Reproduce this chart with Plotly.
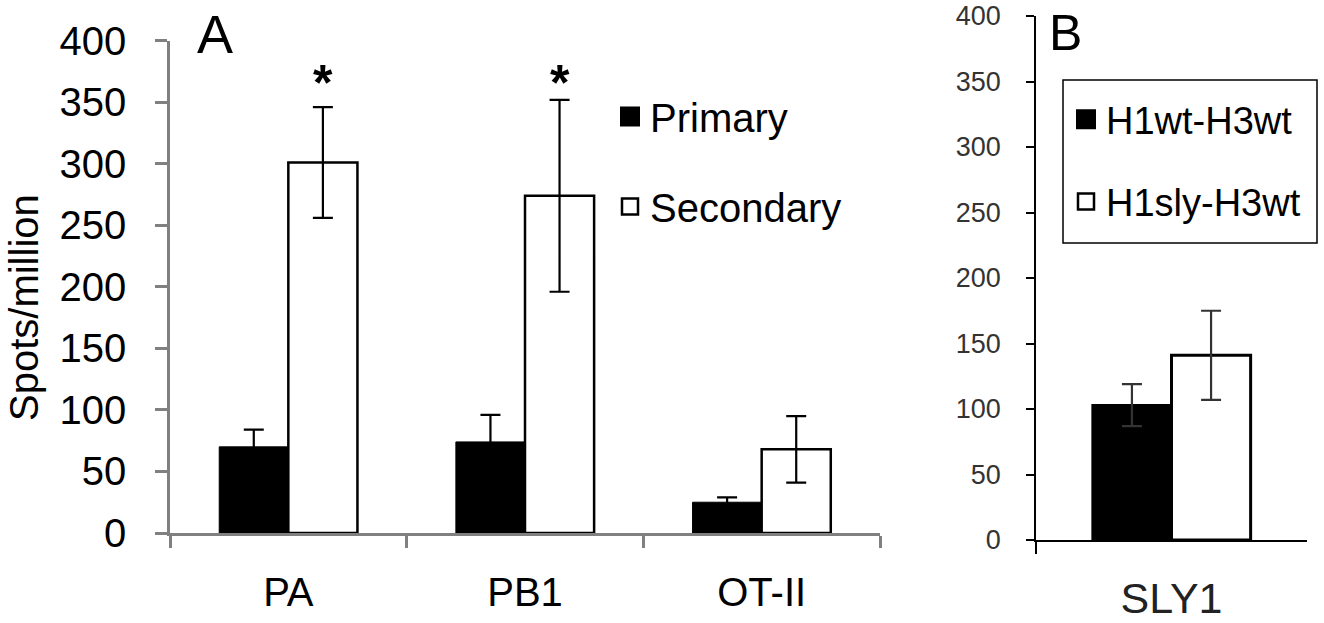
import plotly.graph_objects as go

# ---------- data ----------
categories_a = ["PA", "PB1", "OT-II"]
primary = [70, 74, 25]
primary_err = [14, 22, 4]
secondary = [301, 274, 68]
secondary_err = [45, 78, 27]
significance = ["*", "*", ""]
sig_level = 366

categories_b = ["SLY1"]
h1wt = [103]
h1wt_err = [16]
h1sly = [141]
h1sly_err = [34]

ytick_vals = [0, 50, 100, 150, 200, 250, 300, 350, 400]

FONT = "Liberation Sans, Arial, sans-serif"
W, H = 1324, 623
BARGAP_A = 0.416
BARGAP_B = 0.424

fig = go.Figure()

# ---------- panel A ----------
fig.add_trace(go.Bar(
    x=categories_a, y=primary, name="Primary", showlegend=False,
    marker=dict(color="black", line=dict(color="black", width=1)),
    error_y=dict(type="data", array=primary_err, color="black", thickness=2.2, width=10),
    xaxis="x", yaxis="y"))
fig.add_trace(go.Bar(
    x=categories_a, y=secondary, name="Secondary", showlegend=False,
    marker=dict(color="white", line=dict(color="black", width=2.5)),
    error_y=dict(type="data", array=secondary_err, color="black", thickness=2.2, width=10),
    xaxis="x", yaxis="y"))

# legend entries (panel A)
fig.add_trace(go.Scatter(x=[None], y=[None], mode="markers", name="Primary",
                         legend="legend", legendgroup="p",
                         marker=dict(symbol="square", size=16, color="black",
                                     line=dict(color="black", width=4)),
                         xaxis="x", yaxis="y"))
fig.add_trace(go.Scatter(x=[None], y=[None], mode="markers", name="Secondary",
                         legend="legend", legendgroup="s",
                         marker=dict(symbol="square", size=16, color="white",
                                     line=dict(color="black", width=2.5)),
                         xaxis="x", yaxis="y"))

# ---------- panel B ----------
fig.add_trace(go.Bar(
    x=categories_b, y=h1wt, name="H1wt-H3wt", showlegend=False,
    marker=dict(color="black", line=dict(color="black", width=2)),
    error_y=dict(type="data", array=h1wt_err, color="#333333", thickness=2.2, width=10),
    xaxis="x2", yaxis="y2"))
fig.add_trace(go.Bar(
    x=categories_b, y=h1sly, name="H1sly-H3wt", showlegend=False,
    marker=dict(color="white", line=dict(color="black", width=3)),
    error_y=dict(type="data", array=h1sly_err, color="#333333", thickness=2.2, width=10),
    xaxis="x2", yaxis="y2"))

fig.add_trace(go.Scatter(x=[None], y=[None], mode="markers", name="H1wt-H3wt",
                         legend="legend2", legendgroup="w",
                         marker=dict(symbol="square", size=16, color="black",
                                     line=dict(color="black", width=4)),
                         xaxis="x2", yaxis="y2"))
fig.add_trace(go.Scatter(x=[None], y=[None], mode="markers", name="H1sly-H3wt",
                         legend="legend2", legendgroup="y",
                         marker=dict(symbol="square", size=16, color="white",
                                     line=dict(color="black", width=2.5)),
                         xaxis="x2", yaxis="y2"))

# ---------- significance asterisks ----------
bar_w = (1 - BARGAP_A) / 2
annotations = []
for i, s in enumerate(significance):
    if s:
        annotations.append(dict(x=i + bar_w / 2, y=sig_level, xref="x", yref="y",
                                text=s, showarrow=False,
                                font=dict(family=FONT, size=50, color="black", weight="bold"),
                                yanchor="middle"))

# panel letters and y title
annotations += [
    dict(x=215 / W, y=1 - 34 / H, xref="paper", yref="paper", text="A", showarrow=False,
         font=dict(family=FONT, size=54, color="black"), xanchor="center", yanchor="middle"),
    dict(x=1065 / W, y=1 - 33 / H, xref="paper", yref="paper", text="B", showarrow=False,
         font=dict(family=FONT, size=50, color="black"), xanchor="center", yanchor="middle"),
    dict(x=24 / W, y=1 - 308 / H, xref="paper", yref="paper", text="Spots/million",
         showarrow=False, textangle=-90,
         font=dict(family=FONT, size=40, color="black"), xanchor="center", yanchor="middle"),
]

# frame of the panel-B legend
shapes = [dict(type="rect", xref="paper", yref="paper",
               x0=1063 / W, x1=1317 / W, y0=1 - 243 / H, y1=1 - 80 / H,
               line=dict(color="black", width=1.5), fillcolor="white", layer="above")]

axA = dict(showgrid=False, zeroline=False, showline=True, linecolor="#808080", linewidth=2.5,
           ticks="outside", ticklen=12, tickwidth=2.5, tickcolor="#808080", automargin=False,
           ticklabeloverflow="allow")
axB = dict(showgrid=False, zeroline=False, showline=True, linecolor="black", linewidth=1.5,
           ticks="outside", tickwidth=1.5, tickcolor="black", automargin=False,
           ticklabeloverflow="allow")

fig.update_layout(
    template="none",
    width=W, height=H,
    margin=dict(l=0, r=0, t=0, b=0, autoexpand=False),
    paper_bgcolor="white", plot_bgcolor="white",
    barmode="group", bargap=BARGAP_A, bargroupgap=0,
    font=dict(family=FONT, color="black"),
    xaxis=dict(domain=[170 / W, 880 / W], anchor="y", tickson="boundaries",
               tickfont=dict(size=40, color="black"), ticklabelstandoff=22, **axA),
    yaxis=dict(domain=[1 - 533 / H, 1 - 40.7 / H], anchor="x", range=[0, 400],
               tickvals=ytick_vals, tickfont=dict(size=40, color="black"),
               ticklabelstandoff=21, **axA),
    xaxis2=dict(domain=[1036 / W, 1307 / W], anchor="y2", tickson="boundaries", ticklen=12,
                tickfont=dict(size=43, color="#222222"), ticklabelstandoff=20, **axB),
    yaxis2=dict(domain=[1 - 540 / H, 1 - 16 / H], anchor="x2", range=[0, 400], ticklen=8,
                tickvals=ytick_vals, tickfont=dict(size=27, color="#333333"),
                ticklabelstandoff=20, **axB),
    legend=dict(x=610 / W, y=1 - 84 / H, xanchor="left", yanchor="top",
                font=dict(family=FONT, size=40, color="black"),
                traceorder="grouped", tracegroupgap=35, bgcolor="rgba(0,0,0,0)",
                borderwidth=0, itemclick=False),
    legend2=dict(x=1066 / W, y=1 - 88 / H, xanchor="left", yanchor="top",
                 font=dict(family=FONT, size=38, color="black"),
                 traceorder="grouped", tracegroupgap=30, bgcolor="rgba(0,0,0,0)",
                 borderwidth=0, itemclick=False),
    annotations=annotations,
    shapes=shapes,
)

fig.write_html("out.html", config={"displayModeBar": False},
               post_script="document.body.style.margin='0';")
